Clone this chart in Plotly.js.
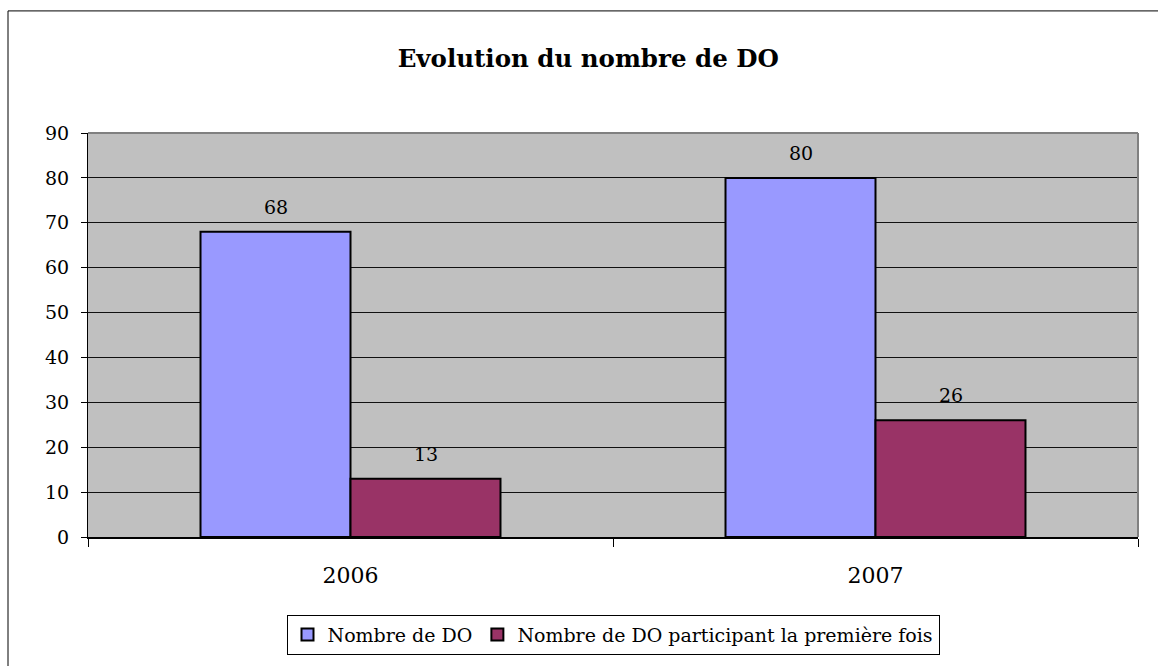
<!DOCTYPE html>
<html>
<head>
<meta charset="utf-8">
<script src="https://cdn.plot.ly/plotly-3.0.1.min.js"></script>
<style>
html,body{margin:0;padding:0;background:#fff;}
#chart{width:1158px;height:666px;}
</style>
</head>
<body>
<div id="chart"></div>
<script>
var categories = ["2006", "2007"];
var seriesNames = ["Nombre de DO", "Nombre de DO participant la première fois"];
var nombreDO = [68, 80];
var premiereFois = [13, 26];
var yTicks = [0, 10, 20, 30, 40, 50, 60, 70, 80, 90];

var FONT = "DejaVu Serif, Bookman Old Style, serif";
var BARGAP = 0.4286;

var traces = [
  {type: "bar", name: seriesNames[0], x: categories, y: nombreDO,
   marker: {color: "#9999FF", line: {color: "#000000", width: 2}}},
  {type: "bar", name: seriesNames[1], x: categories, y: premiereFois,
   marker: {color: "#993366", line: {color: "#000000", width: 2}}}
];

var barW = (1 - BARGAP) / 2;
var annotations = [];
[nombreDO, premiereFois].forEach(function (vals, s) {
  vals.forEach(function (v, i) {
    annotations.push({
      x: i + (s - 0.5) * barW, y: v, xref: "x", yref: "y",
      text: String(v), showarrow: false, yanchor: "middle", yshift: 25,
      font: {family: FONT, size: 19, color: "#000"}
    });
  });
});

var layout = {
  width: 1158, height: 666,
  margin: {l: 88, r: 20, t: 133, b: 126},
  paper_bgcolor: "#ffffff",
  plot_bgcolor: "#c0c0c0",
  barmode: "group",
  bargap: BARGAP,
  bargroupgap: 0,
  showlegend: true,
  title: {
    text: "<b>Evolution du nombre de DO</b>",
    x: 0.508, xref: "container", xanchor: "center",
    y: 1 - 58 / 666, yref: "container", yanchor: "middle",
    font: {family: FONT, size: 24.5, color: "#000"}
  },
  font: {family: FONT, size: 19, color: "#000"},
  xaxis: {
    type: "category",
    tickson: "boundaries",
    ticks: "outside", ticklen: 8, tickwidth: 1, tickcolor: "#000",
    showline: true, linecolor: "#000", linewidth: 2,
    showgrid: false, zeroline: false,
    ticklabelstandoff: 18,
    tickfont: {family: FONT, size: 22, color: "#000"},
    fixedrange: true
  },
  yaxis: {
    range: [0, 90],
    tickvals: yTicks,
    ticktext: yTicks.map(String),
    ticks: "outside", ticklen: 6, tickwidth: 1, tickcolor: "#000",
    showline: true, linecolor: "#000", linewidth: 1,
    showgrid: true, gridcolor: "#111", gridwidth: 1,
    zeroline: false,
    ticklabelstandoff: 8,
    tickfont: {family: FONT, size: 19, color: "#000"},
    fixedrange: true
  },
  legend: {
    orientation: "h",
    x: 0.5, xanchor: "center",
    y: -0.192, yanchor: "top",
    bordercolor: "#000", borderwidth: 1,
    bgcolor: "#fff",
    font: {family: FONT, size: 19, color: "#000"},
    itemwidth: 30, tracegroupgap: 0
  },
  annotations: annotations,
  shapes: [
    {type: "line", xref: "paper", yref: "paper", x0: 0, x1: 1, y0: 1, y1: 1,
     line: {color: "#808080", width: 2}},
    {type: "line", xref: "paper", yref: "paper", x0: 1, x1: 1, y0: 0, y1: 1,
     line: {color: "#808080", width: 2}},
    {type: "rect", xref: "paper", yref: "paper",
     x0: -80 / 1050, x1: 1.2, y0: -0.6, y1: 1 + 123 / 407,
     line: {color: "#000", width: 1}, fillcolor: "rgba(0,0,0,0)"}
  ]
};

Plotly.newPlot("chart", traces, layout, {displayModeBar: false, staticPlot: true});
</script>
</body>
</html>
